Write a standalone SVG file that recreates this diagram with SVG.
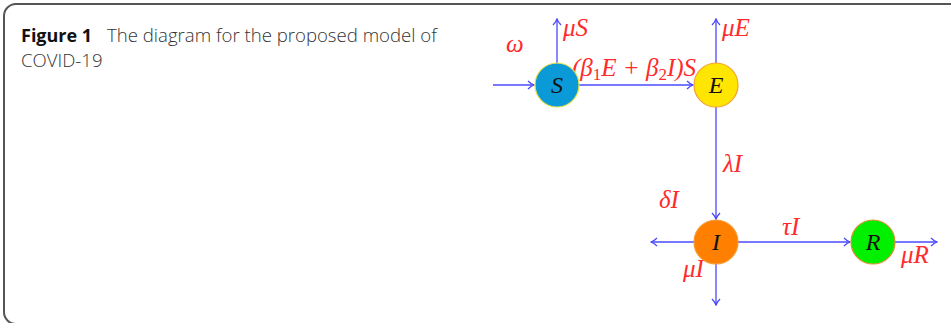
<svg xmlns="http://www.w3.org/2000/svg" width="951" height="323" viewBox="0 0 951 323">
<defs>
<style>
.frame{fill:none;stroke:#555;stroke-width:2}
.cap{font-family:"Open Sans","Liberation Sans",sans-serif;font-size:18.6px;font-weight:300;fill:#333}
.capb{font-weight:bold;fill:#111;font-size:18px}
.con{fill:none;stroke:#4a4aff;stroke-width:1.3}
.lbl{font-family:"Liberation Serif","DejaVu Serif",serif;font-style:italic;font-size:25px;fill:#ff2a2a}
.nl{font-family:"Liberation Serif","DejaVu Serif",serif;font-style:italic;font-size:24px;fill:#111;text-anchor:middle}
.sub{font-size:17px;font-style:normal}
</style>
<marker id="ah" viewBox="0 0 10 10" refX="9" refY="5" markerWidth="10" markerHeight="10" markerUnits="userSpaceOnUse" orient="auto">
<path d="M3,1 Q6,4 9,5 Q6,6 3,9" fill="none" stroke="#4a4aff" stroke-width="1.3"/>
</marker>
</defs>
<rect width="951" height="323" fill="#fff"/>
<path class="frame" d="M951,4 H16 A12,12 0 0 0 4,16 V312 A12,12 0 0 0 16,324"/>
<text class="cap" x="21" y="42"><tspan class="capb">Figure 1</tspan><tspan x="107">The diagram for the proposed model of</tspan></text>
<text class="cap" x="21" y="67">COVID-19</text>
<g id="connectors">
<path class="con" d="M493,85 H534" marker-end="url(#ah)"/>
<path class="con" d="M557,63 V19" marker-end="url(#ah)"/>
<path class="con" d="M579,85 H693" marker-end="url(#ah)"/>
<path class="con" d="M716,63 V19" marker-end="url(#ah)"/>
<path class="con" d="M716,107 V219" marker-end="url(#ah)"/>
<path class="con" d="M694,242 H651" marker-end="url(#ah)"/>
<path class="con" d="M716,264 V305" marker-end="url(#ah)"/>
<path class="con" d="M738,242 H850" marker-end="url(#ah)"/>
<path class="con" d="M895,242 H937" marker-end="url(#ah)"/>
<text class="lbl" x="506" y="52">ω</text>
<text class="lbl" x="563" y="36">μS</text>
<text class="lbl" x="722" y="36">μE</text>
<text class="lbl" x="572" y="76">(β<tspan class="sub" dy="4">1</tspan><tspan dy="-4">E + β</tspan><tspan class="sub" dy="4">2</tspan><tspan dy="-4">I)S</tspan></text>
<text class="lbl" x="723" y="172">λI</text>
<text class="lbl" x="659" y="208">δI</text>
<text class="lbl" x="782" y="235">τI</text>
<text class="lbl" x="683" y="277">μI</text>
<text class="lbl" x="901" y="263">μR</text>
</g>
<g id="node-S">
<circle cx="557" cy="85" r="22" fill="#0a9ad8" stroke="#e8e04a" stroke-width="1.2"/>
<text class="nl" x="557" y="93">S</text>
</g>
<g id="node-E">
<circle cx="716" cy="85" r="22" fill="#ffe600" stroke="#f5a030" stroke-width="1.2"/>
<text class="nl" x="716" y="93">E</text>
</g>
<g id="node-I">
<circle cx="716" cy="242" r="22" fill="#ff8000" stroke="#f59a30" stroke-width="1.2"/>
<text class="nl" x="716" y="250">I</text>
</g>
<g id="node-R">
<circle cx="873" cy="242" r="22" fill="#00f000" stroke="#e09030" stroke-width="1.2"/>
<text class="nl" x="873" y="250">R</text>
</g>
</svg>
